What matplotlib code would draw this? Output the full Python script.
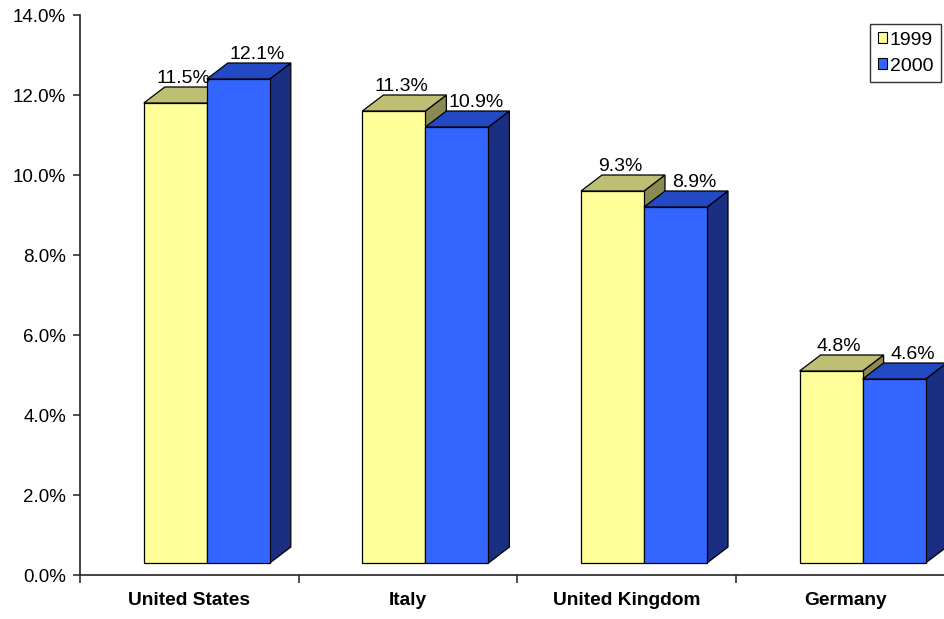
import matplotlib
matplotlib.use("Agg")
import matplotlib.pyplot as plt
from matplotlib.patches import Polygon, Patch

plt.rcParams['font.family'] = ['Liberation Sans', 'DejaVu Sans']

# ---- data ----
categories = ["United States", "Italy", "United Kingdom", "Germany"]
series_names = ["1999", "2000"]
values_1999 = [11.5, 11.3, 9.3, 4.8]
values_2000 = [12.1, 10.9, 8.9, 4.6]
y_ticks = [0, 2, 4, 6, 8, 10, 12, 14]

# ---- style ----
front_colors = ["#FFFF99", "#3366FF"]
top_colors = ["#BFBF73", "#2449C4"]
side_colors = ["#8A8A55", "#1A2E82"]
label_dx = [0.035, 0.087]

W, H = 944, 619
fig = plt.figure(figsize=(W / 100, H / 100), dpi=100)
ax_left, ax_bottom, ax_w, ax_h = 80, 44, 874.4, 560
ax = fig.add_axes([ax_left / W, ax_bottom / H, ax_w / W, ax_h / H])
ax.set_xlim(0, len(categories))
ax.set_ylim(0, 14)

px_x = ax_w / len(categories)   # pixels per x unit
px_y = ax_h / 14.0              # pixels per y unit
base = 12 / px_y                # floor offset of the 3D bars
bar_w = 63 / px_x
ddx = 21 / px_x
ddy = 16 / px_y
first_offset = -45.5 / px_x

def draw_bar(x0, v, k):
    y0 = base
    y1 = base + v
    x1 = x0 + bar_w
    ec = dict(edgecolor="black", linewidth=0.9, joinstyle="miter")
    front = Polygon([(x0, y0), (x1, y0), (x1, y1), (x0, y1)], closed=True,
                    facecolor=front_colors[k], zorder=2, **ec)
    top = Polygon([(x0, y1), (x1, y1), (x1 + ddx, y1 + ddy), (x0 + ddx, y1 + ddy)],
                  closed=True, facecolor=top_colors[k], zorder=2, **ec)
    side = Polygon([(x1, y0), (x1 + ddx, y0 + ddy), (x1 + ddx, y1 + ddy), (x1, y1)],
                   closed=True, facecolor=side_colors[k], zorder=2, **ec)
    for p in (side, front, top):
        ax.add_patch(p)
    ax.text(x0 + bar_w / 2 + label_dx[k], y1 + ddy + 0.1, f"{v:.1f}%",
            ha="center", va="baseline", fontsize=14, zorder=3)

for i in range(len(categories)):
    x0 = i + 0.5 + first_offset
    draw_bar(x0, values_1999[i], 0)
    draw_bar(x0 + bar_w, values_2000[i], 1)

# axes styling
for s in ("top", "right"):
    ax.spines[s].set_visible(False)
for s in ("left", "bottom"):
    ax.spines[s].set_linewidth(1.2)
    ax.spines[s].set_color("#222222")

ax.set_yticks(y_ticks)
ax.set_yticklabels([f"{t:.1f}%" for t in y_ticks], fontsize=13.5)
ax.tick_params(axis="y", direction="out", length=5, width=1.1, pad=5, color="#222222")

ax.set_xticks(range(len(categories) + 1))
ax.set_xticklabels([])
ax.tick_params(axis="x", which="major", direction="out", length=6, width=1.1, color="#222222")
ax.set_xticks([i + 0.5 for i in range(len(categories))], minor=True)
ax.set_xticklabels(categories, minor=True, fontsize=13.8, fontweight="bold")
ax.tick_params(axis="x", which="minor", length=0, pad=12)

handles = [Patch(facecolor=front_colors[k], edgecolor="black", linewidth=0.8)
           for k in range(2)]
leg = fig.legend(handles, series_names, loc="upper right",
                 bbox_to_anchor=(941 / W, 1 - 24 / H), fontsize=14,
                 frameon=True, fancybox=False, edgecolor="black",
                 handlelength=0.45, handleheight=0.5, handletextpad=0.15,
                 labelspacing=0.45, borderpad=0.4, borderaxespad=0)
leg.get_frame().set_linewidth(1.0)

fig.savefig("out.png", dpi=100)
